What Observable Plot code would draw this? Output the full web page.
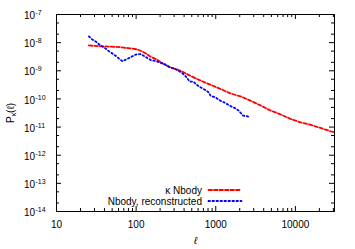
<!DOCTYPE html>
<html><head><meta charset="utf-8">
<script src="https://cdn.jsdelivr.net/npm/d3@7"></script>
<script src="https://cdn.jsdelivr.net/npm/@observablehq/plot@0.6"></script>
<style>body{margin:0;background:#fff} svg{display:block}</style>
</head><body><div id="chart"></div>
<script>
// κ Nbody (red dashed)
const nbodyL = [25.5, 35, 47, 62, 83, 103, 117, 135, 150, 181, 219, 266, 356, 475, 635, 849, 1135, 1519, 2046, 2729, 3646, 4866, 6498, 8681, 11590, 15490, 20650, 27600, 30500];
const nbodyP = [7.94e-9, 7.41e-9, 7.24e-9, 6.92e-9, 6.31e-9, 5.75e-9, 5.01e-9, 3.98e-9, 3.24e-9, 2.51e-9, 1.78e-9, 1.35e-9, 1.02e-9, 6.76e-10, 4.57e-10, 3.24e-10, 2.29e-10, 1.58e-10, 1.23e-10, 8.71e-11, 5.89e-11, 3.89e-11, 2.82e-11, 1.95e-11, 1.48e-11, 1.20e-11, 9.33e-12, 7.08e-12, 6.61e-12];
// Nbody, reconstructed (blue dotted)
const reconL = [25.5, 28.2, 31.7, 34.9, 39.2, 45.7, 51.3, 56.6, 62.3, 67.3, 75.7, 85.8, 93.5, 103, 114, 129, 142, 156, 177, 199, 230, 254, 279, 323, 373, 411, 475, 523, 578, 636, 700, 809, 867, 982, 1135, 1314, 1519, 1756, 1934, 2198, 2418, 2714];
const reconP = [1.66e-8, 1.29e-8, 1.05e-8, 8.32e-9, 6.92e-9, 4.90e-9, 3.98e-9, 3.24e-9, 2.57e-9, 2.19e-9, 2.57e-9, 3.02e-9, 3.55e-9, 3.89e-9, 3.89e-9, 3.24e-9, 2.69e-9, 2.34e-9, 2.24e-9, 1.95e-9, 1.70e-9, 1.41e-9, 1.26e-9, 1.10e-9, 8.51e-10, 6.76e-10, 4.07e-10, 4.17e-10, 3.16e-10, 2.63e-10, 2.29e-10, 1.74e-10, 1.26e-10, 1.15e-10, 8.71e-11, 7.24e-11, 5.62e-11, 4.68e-11, 3.89e-11, 2.57e-11, 2.45e-11, 2.24e-11];

const seriesNames = ["κ Nbody", "Nbody, reconstructed"];
const seriesColors = ["#ff0000", "#0000ff"];
const xMajorTicks = [10, 100, 1000, 10000];
const xMinorSteps = [2, 3, 4, 5, 6, 7, 8, 9];
const yMajorTicks = [1e-14, 1e-13, 1e-12, 1e-11, 1e-10, 1e-9, 1e-8, 1e-7];
const yMinorSteps = [2, 5];
const xTitle = "ℓ";
const yTitle = "Pκ(ℓ)";

const W = 355, H = 249, mL = 56, mR = 21, mT = 14, mB = 38;
const fw = W - mL - mR, fh = H - mT - mB;
const xDomain = [10, 31000], yDomain = [1e-14, 1e-7];
const xMinor = xMajorTicks.flatMap(t => xMinorSteps.map(s => s * t)).filter(v => v <= xDomain[1]);
const yMinor = yMajorTicks.slice(0, -1).flatMap(t => yMinorSteps.map(s => s * t));
const nbody = nbodyL.map((l, i) => ({l, p: nbodyP[i]}));
const recon = reconL.map((l, i) => ({l, p: reconP[i]}));
const hLine = {draw(ctx, l) { ctx.moveTo(0, 0); ctx.lineTo(0, -l); }};
const MAJ = 5, MIN = 3;

const chart = Plot.plot({
  width: W, height: H,
  marginLeft: mL, marginRight: mR, marginTop: mT, marginBottom: mB,
  style: {fontFamily: "'Liberation Sans', Arial, Helvetica, sans-serif", fontSize: "10px", background: "white", color: "black"},
  x: {type: "log", domain: xDomain, axis: null},
  y: {type: "log", domain: yDomain, axis: null},
  marks: [
    Plot.line(nbody, {x: "l", y: "p", stroke: seriesColors[0], strokeWidth: 1.8, strokeDasharray: "3.5,2"}),
    Plot.line(recon, {x: "l", y: "p", stroke: seriesColors[1], strokeWidth: 1.8, strokeDasharray: "1.5,2.5"}),
    // ticks (inward, mirrored)
    Plot.tickX(xMajorTicks, {x: d => d, insetTop: fh - MAJ, stroke: "black"}),
    Plot.tickX(xMajorTicks, {x: d => d, insetBottom: fh - MAJ, stroke: "black"}),
    Plot.tickX(xMinor, {x: d => d, insetTop: fh - MIN, stroke: "black"}),
    Plot.tickX(xMinor, {x: d => d, insetBottom: fh - MIN, stroke: "black"}),
    Plot.tickY(yMajorTicks, {y: d => d, insetRight: fw - MAJ, stroke: "black"}),
    Plot.tickY(yMajorTicks, {y: d => d, insetLeft: fw - MAJ, stroke: "black"}),
    Plot.tickY(yMinor, {y: d => d, insetRight: fw - MIN, stroke: "black"}),
    Plot.tickY(yMinor, {y: d => d, insetLeft: fw - MIN, stroke: "black"}),
    Plot.frame({stroke: "black", strokeWidth: 1}),
    // tick labels
    Plot.text(xMajorTicks, {x: d => d, frameAnchor: "bottom", dy: 13, lineAnchor: "middle", textAnchor: "middle", text: d => String(d), fontSize: 10}),
    Plot.text(yMajorTicks, {y: d => d, frameAnchor: "left", dx: -21.5, dy: 1.5, lineAnchor: "middle", textAnchor: "end", text: () => "10", fontSize: 10}),
    Plot.text(yMajorTicks, {y: d => d, frameAnchor: "left", dx: -21, dy: -1.6, lineAnchor: "middle", textAnchor: "start", text: d => String(Math.round(Math.log10(d))), fontSize: 7}),
    // axis titles
    Plot.text([xTitle], {frameAnchor: "bottom", dy: 29, lineAnchor: "middle", textAnchor: "middle", text: d => d, fontSize: 10, fontStyle: "italic"}),
    Plot.text([yTitle], {frameAnchor: "left", dx: -46, rotate: -90, lineAnchor: "middle", textAnchor: "middle", text: d => d, fontSize: 10}),
    // legend
    Plot.text([seriesNames[0]], {frameAnchor: "bottom-right", dx: -132.5, dy: -21, lineAnchor: "middle", textAnchor: "end", text: d => d, fontSize: 10}),
    Plot.text([seriesNames[1]], {frameAnchor: "bottom-right", dx: -132.5, dy: -10, lineAnchor: "middle", textAnchor: "end", text: d => d, fontSize: 10}),
    Plot.vector([0], {frameAnchor: "bottom-right", dx: -126, dy: -21.5, rotate: 90, length: 33, anchor: "start", shape: hLine, stroke: seriesColors[0], strokeWidth: 1.8, strokeDasharray: "3.5,2"}),
    Plot.vector([0], {frameAnchor: "bottom-right", dx: -126, dy: -10.5, rotate: 90, length: 33, anchor: "start", shape: hLine, stroke: seriesColors[1], strokeWidth: 1.8, strokeDasharray: "1.5,2.5"})
  ]
});
document.getElementById("chart").appendChild(chart);

// subscript κ in the y title
d3.select(chart).selectAll("text").each(function() {
  if (this.textContent === yTitle) {
    const t = d3.select(this);
    t.text(null);
    t.append("tspan").text("P");
    t.append("tspan").attr("font-size", 7).attr("dy", 2.5).text("κ");
    t.append("tspan").attr("dy", -2.5).text("(ℓ)");
  }
});
</script>
</body></html>
